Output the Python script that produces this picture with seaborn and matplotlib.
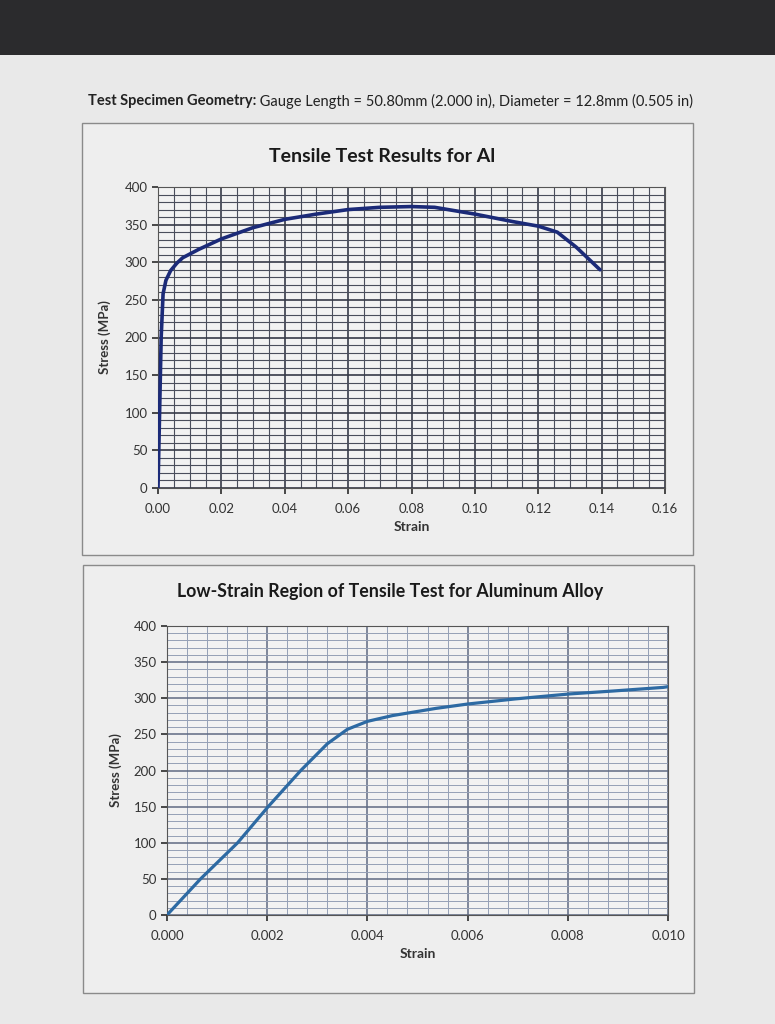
import matplotlib
matplotlib.use("Agg")
from matplotlib import pyplot as plt
from matplotlib.patches import Rectangle
from matplotlib.ticker import MultipleLocator, FormatStrFormatter
import seaborn as sns
import pandas as pd

# full test curve
full_strain = [0, 0.0010, 0.0016, 0.0025, 0.004, 0.006, 0.0078, 0.0128, 0.02, 0.03, 0.04,
               0.05, 0.06, 0.07, 0.08, 0.0873, 0.10, 0.112, 0.12, 0.126, 0.132, 0.1395]
full_stress = [0, 200, 258, 276, 289, 299, 306, 317, 331, 346, 357,
               364, 370, 373, 374, 373, 364, 354, 348, 340, 320, 290]

# low-strain region
low_strain = [0, 0.00067, 0.00141, 0.00202, 0.00267, 0.0032, 0.0036, 0.0040,
              0.0045, 0.00537, 0.006, 0.00694, 0.00804, 0.0089, 0.0099, 0.0100]
low_stress = [0, 50, 100, 150, 200, 237, 257, 268,
              276, 286, 292, 299, 306, 310, 315, 316]

header_bold = "Test Specimen Geometry:"
header_rest = " Gauge Length = 50.80mm (2.000 in), Diameter = 12.8mm (0.505 in)"
title_full = "Tensile Test Results for Al"
title_low = "Low-Strain Region of Tensile Test for Aluminum Alloy"

sns.set_theme(style="white")
plt.rcParams['font.family'] = ['Lato', 'DejaVu Sans']

W, H = 775, 1024
fig = plt.figure(figsize=(W/100, H/100), dpi=100)
fig.patch.set_facecolor("#e9e9e9")

# dark monitor bezel at the top
fig.patches.append(Rectangle((0, 1 - 55/H), 1, 55/H, transform=fig.transFigure,
                             facecolor="#2b2b2d", edgecolor="none", zorder=-2))

# chart boxes
for (x0, y0, x1, y1) in [(82, 123, 693, 555), (83, 565, 694, 993)]:
    fig.patches.append(Rectangle((x0/W, 1 - y1/H), (x1 - x0)/W, (y1 - y0)/H,
                                 transform=fig.transFigure, facecolor="#eeeeee",
                                 edgecolor="#8a8a8a", linewidth=1.0, zorder=-1))

t = fig.text(88/W, 1 - 101/H, header_bold, fontsize=10.5, fontweight="bold",
             color="#222222", va="center")
fig.canvas.draw()
bb = t.get_window_extent()
fig.text(bb.x1/fig.bbox.width, 1 - 101/H, header_rest,
         fontsize=10.5, color="#222222", va="center")

fig.text(382/W, 1 - 157/H, title_full, fontsize=14, fontweight="bold",
         color="#1a1a1a", ha="center", va="center")
fig.text(390/W, 1 - 592/H, title_low, fontsize=12.8, fontweight="bold",
         color="#1a1a1a", ha="center", va="center")

# top chart
ax1 = fig.add_axes([158/W, 1 - 488/H, 507/W, 301/H])
df1 = pd.DataFrame({"Strain": full_strain, "Stress": full_stress})
sns.lineplot(data=df1, x="Strain", y="Stress", ax=ax1, color="#1b2a78", linewidth=2.6,
             sort=False, zorder=5)
ax1.set_xlim(0, 0.16)
ax1.set_ylim(0, 400)
ax1.xaxis.set_major_locator(MultipleLocator(0.02))
ax1.xaxis.set_minor_locator(MultipleLocator(0.005))
ax1.yaxis.set_major_locator(MultipleLocator(50))
ax1.yaxis.set_minor_locator(MultipleLocator(10))
ax1.xaxis.set_major_formatter(FormatStrFormatter("%.2f"))
ax1.grid(which="major", color="#363a48", linewidth=1.2)
ax1.grid(which="minor", color="#4a4e5c", linewidth=0.8)
ax1.set_facecolor("#f2f2f2")
ax1.set_xlabel("Strain", fontsize=10, fontweight="bold", color="#333333", labelpad=4)
ax1.set_ylabel("Stress (MPa)", fontsize=9.5, fontweight="bold", color="#333333", labelpad=10)

# bottom chart
ax2 = fig.add_axes([167/W, 1 - 915/H, 501/W, 289/H])
df2 = pd.DataFrame({"Strain": low_strain, "Stress": low_stress})
sns.lineplot(data=df2, x="Strain", y="Stress", ax=ax2, color="#2d6aa3", linewidth=2.3,
             sort=False, zorder=5)
ax2.set_xlim(0, 0.010)
ax2.set_ylim(0, 400)
ax2.xaxis.set_major_locator(MultipleLocator(0.002))
ax2.xaxis.set_minor_locator(MultipleLocator(0.0004))
ax2.yaxis.set_major_locator(MultipleLocator(50))
ax2.yaxis.set_minor_locator(MultipleLocator(10))
ax2.xaxis.set_major_formatter(FormatStrFormatter("%.3f"))
ax2.grid(which="major", color="#5f6a82", linewidth=1.1)
ax2.grid(which="minor", color="#95a0b6", linewidth=0.7)
ax2.set_facecolor("#f2f2f2")
ax2.set_xlabel("Strain", fontsize=10, fontweight="bold", color="#333333", labelpad=4)
ax2.set_ylabel("Stress (MPa)", fontsize=9.5, fontweight="bold", color="#333333", labelpad=8)

for ax in (ax1, ax2):
    for s in ax.spines.values():
        s.set_color("#555555")
        s.set_linewidth(0.8)
    ax.tick_params(axis="both", which="major", labelsize=9.5, colors="#333333",
                   length=4, direction="out", bottom=True, left=True)
    ax.tick_params(axis="x", pad=7)

fig.savefig("out.png", dpi=100, facecolor=fig.get_facecolor())
